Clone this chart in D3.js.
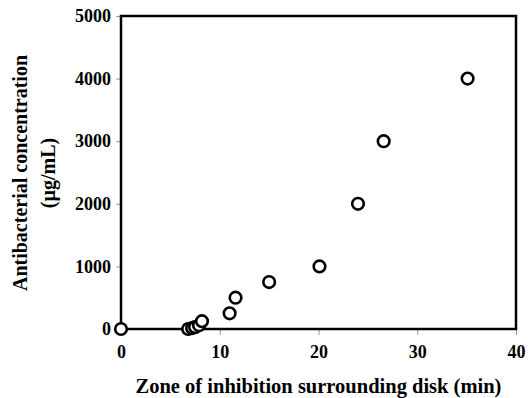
<!DOCTYPE html>
<html><head><meta charset="utf-8">
<script src="https://cdn.jsdelivr.net/npm/d3@7"></script>
<style>body{margin:0;background:#fff}</style>
</head><body>
<svg id="c" width="529" height="398"></svg>
<script>
const zoneValues = [0, 6.8, 7.2, 7.5, 7.9, 8.2, 11.0, 11.6, 15.0, 20.1, 24.0, 26.6, 35.1];
const concValues = [0, 0, 15, 30, 60, 125, 250, 500, 750, 1000, 2000, 3000, 4000];
const xTicks = [0, 10, 20, 30, 40];
const yTicks = [0, 1000, 2000, 3000, 4000, 5000];
const xTitle = "Zone of inhibition surrounding disk (min)";
const yTitleLines = ["Antibacterial concentration", "(µg/mL)"];

const svg = d3.select("#c");
const m = {l:121, r:516, t:16, b:329};
const x = d3.scaleLinear().domain([0,40]).range([m.l, m.r]);
const y = d3.scaleLinear().domain([0,5000]).range([m.b, m.t]);
const font = "'Liberation Serif', 'Times New Roman', serif";

const xAxis = svg.append("g").attr("transform",`translate(0,${m.b})`)
  .call(d3.axisBottom(x).tickValues(xTicks).tickSize(6).tickPadding(10));
const yAxis = svg.append("g").attr("transform",`translate(${m.l},0)`)
  .call(d3.axisLeft(y).tickValues(yTicks).tickSize(5).tickPadding(5).tickFormat(d3.format("d")));
[xAxis,yAxis].forEach(a=>{
  a.select(".domain").remove();
  a.selectAll(".tick line").attr("stroke","#999").attr("stroke-width",1);
  a.selectAll(".tick text").attr("font-family",font).attr("font-weight","bold")
   .attr("font-size",18).attr("fill","#000");
});

svg.append("rect").attr("x",m.l).attr("y",m.t).attr("width",m.r-m.l).attr("height",m.b-m.t)
  .attr("fill","none").attr("stroke","#000").attr("stroke-width",2.5);

const pts = zoneValues.map((v,i)=>({x:v,y:concValues[i]}));
svg.append("g").selectAll("circle").data(pts).join("circle")
  .attr("cx",d=>x(d.x)).attr("cy",d=>y(d.y)).attr("r",5.8)
  .attr("fill","#fff").attr("stroke","#000").attr("stroke-width",2.6);

svg.append("text").attr("x",(m.l+m.r)/2).attr("y",393).attr("text-anchor","middle")
  .attr("font-family",font).attr("font-weight","bold").attr("font-size",20.5).text(xTitle);

const yt = svg.append("text").attr("transform","translate(27,173) rotate(-90)")
  .attr("text-anchor","middle").attr("font-family",font).attr("font-weight","bold").attr("font-size",20);
yt.append("tspan").attr("x",0).attr("y",0).text(yTitleLines[0]);
yt.append("tspan").attr("x",0).attr("y",28).text(yTitleLines[1]);
</script>
</body></html>
